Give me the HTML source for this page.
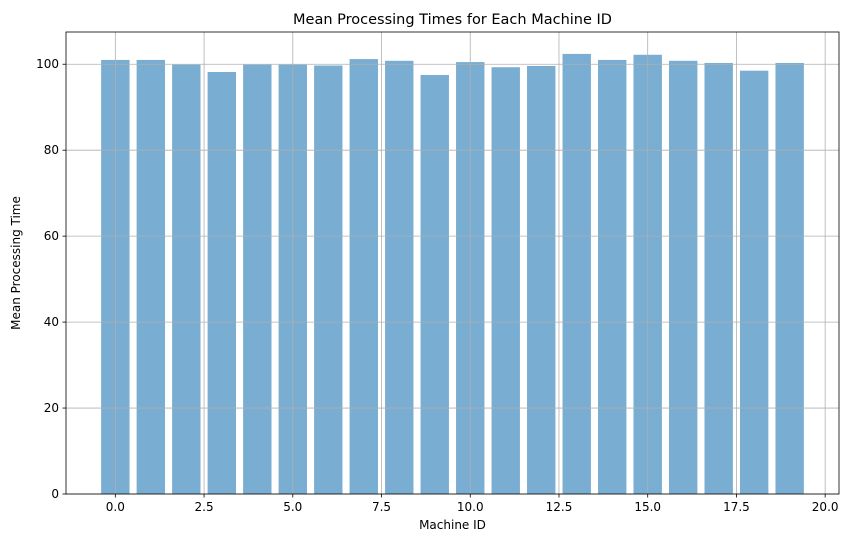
<!DOCTYPE html>
<html><head><meta charset="utf-8"><style>
body{margin:0;background:#fff;font-family:"Liberation Sans","DejaVu Sans",sans-serif;}
</style></head><body>
<svg id="chart" width="852" height="547" xmlns="http://www.w3.org/2000/svg" font-family="DejaVu Sans, Liberation Sans, sans-serif">
<rect width="852" height="547" fill="#fff"/>
<g id="bars"></g><g id="grid"></g><g id="axes"></g>
</svg>
<script>
const categories=[0,1,2,3,4,5,6,7,8,9,10,11,12,13,14,15,16,17,18,19];
const values=[101.0,101.0,99.9,98.2,99.9,99.9,99.7,101.2,100.8,97.5,100.5,99.3,99.6,102.4,101.0,102.2,100.8,100.3,98.5,100.3];
const xTicks=[0,2.5,5,7.5,10,12.5,15,17.5,20];
const xTickLabels=["0.0","2.5","5.0","7.5","10.0","12.5","15.0","17.5","20.0"];
const yTicks=[0,20,40,60,80,100];
const L=66,R=839,T=32,B=494,xMin=-1.39,xMax=20.39,yMax=107.5;
const xs=v=>L+(v-xMin)/(xMax-xMin)*(R-L);
const ys=v=>B-v/yMax*(B-T);
const NS="http://www.w3.org/2000/svg";
function mk(t,a,p){const e=document.createElementNS(NS,t);for(const k in a)e.setAttribute(k,a[k]);p.appendChild(e);return e;}
const grid=document.getElementById('grid'),bars=document.getElementById('bars'),axes=document.getElementById('axes');
categories.forEach((c,i)=>{
 const r=mk('rect',{x:xs(c-0.4),y:ys(values[i]),width:xs(c+0.4)-xs(c-0.4),height:B-ys(values[i]),fill:'#1f77b4','fill-opacity':0.6},bars);
 
 
});
xTicks.forEach((t,i)=>{
 const x=xs(t);
 const g=mk('line',{x1:x,x2:x,y1:T,y2:B,stroke:'#b0b0b0','stroke-width':0.8},grid);
 
 
 mk('line',{x1:x,x2:x,y1:B,y2:B+3.5,stroke:'#000','stroke-width':0.8},axes);
 const tx=mk('text',{x:x,y:B+17,'font-size':12,'text-anchor':'middle'},axes);tx.textContent=xTickLabels[i];
 
 
});
yTicks.forEach(t=>{
 const y=ys(t);
 const g=mk('line',{x1:L,x2:R,y1:y,y2:y,stroke:'#b0b0b0','stroke-width':0.8},grid);
 
 
 mk('line',{x1:L-3.5,x2:L,y1:y,y2:y,stroke:'#000','stroke-width':0.8},axes);
 const tx=mk('text',{x:L-7,y:y+4,'font-size':12,'text-anchor':'end'},axes);tx.textContent=t;
 
 
});
const f=mk('rect',{x:L,y:T,width:R-L,height:B-T,fill:'none',stroke:'#000','stroke-width':0.8},axes);


const ti=mk('text',{x:(L+R)/2,y:T-8,'font-size':14.5,'text-anchor':'middle'},axes);ti.textContent='Mean Processing Times for Each Machine ID';


const xl=mk('text',{x:(L+R)/2,y:B+35,'font-size':12,'text-anchor':'middle'},axes);xl.textContent='Machine ID';


const yl=mk('text',{x:0,y:0,'font-size':12,'text-anchor':'middle',transform:`translate(20,${(T+B)/2}) rotate(-90)`},axes);yl.textContent='Mean Processing Time';


</script>
</body></html>
